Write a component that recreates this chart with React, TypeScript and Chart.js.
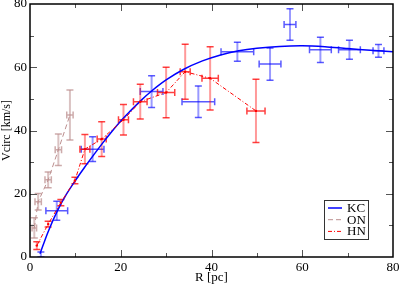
import React, { useEffect, useRef } from 'react';
import { Chart, registerables } from 'chart.js';
Chart.register(...registerables);

// KC model curve
const kcCurveR = [2.2, 4, 6, 8, 10, 12, 14, 16, 18, 20, 22, 24.3, 26.8, 30, 33.8, 38, 42, 46, 50, 55, 60, 65, 70, 75, 80];
const kcCurveV = [1, 8, 14.5, 19.8, 24.2, 28.3, 32.2, 36, 39.6, 43, 46, 49.3, 52.5, 56, 59.3, 62, 63.9, 65.2, 66, 66.6, 66.8, 66.5, 65.9, 65.4, 64.9];

// KC data points
const kcR = [2.4, 5.9, 13.8, 26.8, 37.1, 45.7, 52.9, 57.3, 64.0, 70.4, 76.8];
const kcV = [0.8, 14.6, 34.1, 52.3, 49.1, 64.9, 61.0, 73.5, 65.5, 65.5, 65.2];
const kcRErr = [0, 2.4, 2.5, 2.5, 3.6, 3.6, 2.4, 1.3, 2.4, 2.4, 1.2];
const kcVErr = [0.8, 3, 3.9, 5, 5, 3, 5.1, 5, 4, 3, 2];

// ON data
const onR = [0.95, 1.8, 4.0, 6.25, 8.8];
const onV = [9.2, 17.5, 24.4, 33.9, 44.9];
const onRErr = [0.5, 0.7, 0.7, 0.7, 0.7];
const onVErr = [3.2, 2.6, 2.5, 5, 7.9];

// HN data
const hnR = [1.5, 4.0, 6.8, 9.9, 12.1, 15.8, 20.6, 24.3, 30.0, 34.2, 39.7, 49.8];
const hnV = [3.6, 10.4, 17.2, 24.2, 34.1, 37.3, 43.4, 49.1, 52.0, 58.6, 56.5, 46.2];
const hnRErr = [0, 0, 0, 0, 1.1, 1.0, 1.1, 1.5, 1.9, 1.1, 1.8, 2.0];
const hnVErr = [1.2, 0.9, 1.0, 1.0, 4.6, 5.5, 4.8, 5.5, 8, 8.7, 10, 10];

const legendLabels = ['KC', 'ON', 'HN'];
const xTickValues = [0, 20, 40, 60, 80];
const yTickValues = [0, 20, 40, 60, 80];

const BLUE = '#0000ff';
const BROWN = '#bc8f8f';
const RED = '#ff0000';
const FONT = "'Times New Roman', 'Liberation Serif', Times, serif";

const toXY = (xs: number[], ys: number[]) => xs.map((x, i) => ({ x, y: ys[i] }));

const errorBarPlugin = {
  id: 'errorBars',
  beforeDatasetsDraw(chart: any) {
    const { ctx } = chart;
    const xs = chart.scales.x;
    const ys = chart.scales.y;
    ctx.save();
    ctx.beginPath();
    ctx.rect(chart.chartArea.left, chart.chartArea.top, chart.chartArea.right - chart.chartArea.left, chart.chartArea.bottom - chart.chartArea.top);
    ctx.clip();
    chart.data.datasets.forEach((ds: any) => {
      if (!ds.errX) return;
      const cap = 3.5;
      ds.data.forEach((p: any, j: number) => {
        const px = xs.getPixelForValue(p.x);
        const py = ys.getPixelForValue(p.y);
        const ey = ds.errY[j];
        const ex = ds.errX[j];
        if (ey > 0) {
          const y1 = ys.getPixelForValue(p.y - ey);
          const y2 = ys.getPixelForValue(p.y + ey);
          ctx.strokeStyle = ds.errLight;
          ctx.lineWidth = 2;
          ctx.beginPath();
          ctx.moveTo(px, y1);
          ctx.lineTo(px, y2);
          ctx.stroke();
          ctx.strokeStyle = ds.errDark;
          ctx.lineWidth = 1.5;
          ctx.beginPath();
          ctx.moveTo(px - cap, y1);
          ctx.lineTo(px + cap, y1);
          ctx.moveTo(px - cap, y2);
          ctx.lineTo(px + cap, y2);
          ctx.stroke();
        }
        if (ex > 0) {
          const x1 = xs.getPixelForValue(p.x - ex);
          const x2 = xs.getPixelForValue(p.x + ex);
          ctx.strokeStyle = ds.errDark;
          ctx.lineWidth = 1.5;
          ctx.beginPath();
          ctx.moveTo(x1, py);
          ctx.lineTo(x2, py);
          ctx.moveTo(x1, py - cap);
          ctx.lineTo(x1, py + cap);
          ctx.moveTo(x2, py - cap);
          ctx.lineTo(x2, py + cap);
          ctx.stroke();
        }
      });
    });
    ctx.restore();
  },
};

const framePlugin = {
  id: 'frame',
  afterDraw(chart: any) {
    const { ctx, chartArea: a } = chart;
    const xs = chart.scales.x;
    const ys = chart.scales.y;
    ctx.save();
    ctx.strokeStyle = '#555';
    ctx.lineWidth = 1;
    for (let v = 0; v <= 80; v += 10) {
      const major = v % 20 === 0;
      const len = major ? 7 : 4;
      if (v > 0 && v < 80) {
        const px = Math.round(xs.getPixelForValue(v)) + 0.5;
        ctx.beginPath();
        ctx.moveTo(px, a.bottom);
        ctx.lineTo(px, a.bottom - len);
        ctx.moveTo(px, a.top);
        ctx.lineTo(px, a.top + len);
        ctx.stroke();
        const py = Math.round(ys.getPixelForValue(v)) + 0.5;
        ctx.beginPath();
        ctx.moveTo(a.left, py);
        ctx.lineTo(a.left + len, py);
        ctx.moveTo(a.right, py);
        ctx.lineTo(a.right - len, py);
        ctx.stroke();
      }
    }
    ctx.strokeStyle = '#000';
    ctx.lineWidth = 1.5;
    ctx.strokeRect(a.left, a.top, a.right - a.left, a.bottom - a.top);

    // legend
    const colors = [BLUE, BROWN, RED];
    const dashes = [[], [5, 3], [4, 2, 1, 2]];
    const bx = a.right - 69;
    const by = a.bottom - 57;
    ctx.fillStyle = '#fff';
    ctx.fillRect(bx, by, 44, 39);
    ctx.strokeStyle = '#333';
    ctx.lineWidth = 1;
    ctx.strokeRect(bx + 0.5, by + 0.5, 44, 39);
    ctx.font = `13px ${FONT}`;
    ctx.textBaseline = 'middle';
    ctx.textAlign = 'left';
    legendLabels.forEach((lab, i) => {
      const ly = by + 8 + i * 11.7;
      ctx.strokeStyle = colors[i];
      ctx.lineWidth = i === 0 ? 1.5 : 1;
      ctx.setLineDash(dashes[i]);
      ctx.beginPath();
      ctx.moveTo(bx + 4, ly);
      ctx.lineTo(bx + 18, ly);
      ctx.stroke();
      ctx.setLineDash([]);
      ctx.fillStyle = '#000';
      ctx.fillText(lab, bx + 23, ly + 0.5);
    });
    ctx.restore();
  },
};

export default function App() {
  const ref = useRef<HTMLCanvasElement | null>(null);
  useEffect(() => {
    if (!ref.current) return;
    const chart = new Chart(ref.current, {
      type: 'scatter',
      data: {
        datasets: [
          {
            label: 'KC pts',
            data: toXY(kcR, kcV),
            pointRadius: 0,
            showLine: false,
            errX: kcRErr,
            errY: kcVErr,
            errLight: 'rgba(0,0,255,0.4)',
            errDark: 'rgba(0,0,255,0.65)',
          } as any,
          {
            label: 'ON',
            data: toXY(onR, onV),
            showLine: true,
            borderColor: BROWN,
            borderWidth: 1,
            borderDash: [5, 3],
            pointRadius: 0,
            errX: onRErr,
            errY: onVErr,
            errLight: 'rgba(188,143,143,0.55)',
            errDark: 'rgba(188,143,143,0.75)',
          } as any,
          {
            label: 'HN',
            data: toXY(hnR, hnV),
            showLine: true,
            borderColor: RED,
            borderWidth: 1,
            borderDash: [4, 2, 1, 2],
            pointRadius: 1.2,
            pointBorderWidth: 0,
            pointBackgroundColor: RED,
            errX: hnRErr,
            errY: hnVErr,
            errLight: 'rgba(255,0,0,0.4)',
            errDark: 'rgba(255,0,0,0.75)',
          } as any,
          {
            label: 'KC',
            data: toXY(kcCurveR, kcCurveV),
            showLine: true,
            borderColor: BLUE,
            borderWidth: 1.5,
            pointRadius: 0,
            tension: 0.3,
          },
        ],
      },
      options: {
        responsive: false,
        animation: false,
        events: [],
        layout: { padding: { top: 4, right: 6, left: 0, bottom: 0 } },
        plugins: { legend: { display: false }, tooltip: { enabled: false } },
        scales: {
          x: {
            type: 'linear',
            min: 0,
            max: 80,
            afterBuildTicks: (s: any) => { s.ticks = xTickValues.map((v) => ({ value: v })); },
            ticks: { color: '#000', font: { family: FONT, size: 13 }, padding: 3, maxRotation: 0 },
            grid: { display: false, drawTicks: false },
            border: { display: false },
            title: { display: true, text: 'R [pc]', color: '#000', font: { family: FONT, size: 13 }, padding: 0 },
            afterFit: (s: any) => { s.height = 28; s.paddingLeft = 0; s.paddingRight = 0; },
          },
          y: {
            type: 'linear',
            min: 0,
            max: 80,
            afterBuildTicks: (s: any) => { s.ticks = yTickValues.map((v) => ({ value: v })); },
            ticks: { color: '#000', font: { family: FONT, size: 13 }, padding: 3 },
            grid: { display: false, drawTicks: false },
            border: { display: false },
            title: { display: true, text: 'Vcirc [km/s]', color: '#000', font: { family: FONT, size: 12 }, padding: 0 },
            afterFit: (s: any) => { s.width = 30; s.paddingTop = 0; s.paddingBottom = 0; },
          },
        },
      } as any,
      plugins: [errorBarPlugin, framePlugin],
    });
    return () => chart.destroy();
  }, []);
  return (
    <div style={{ position: 'absolute', left: 0, top: 0, width: 399, height: 285, background: '#fff' }}>
      <canvas ref={ref} width={399} height={285} style={{ display: 'block' }} />
    </div>
  );
}
